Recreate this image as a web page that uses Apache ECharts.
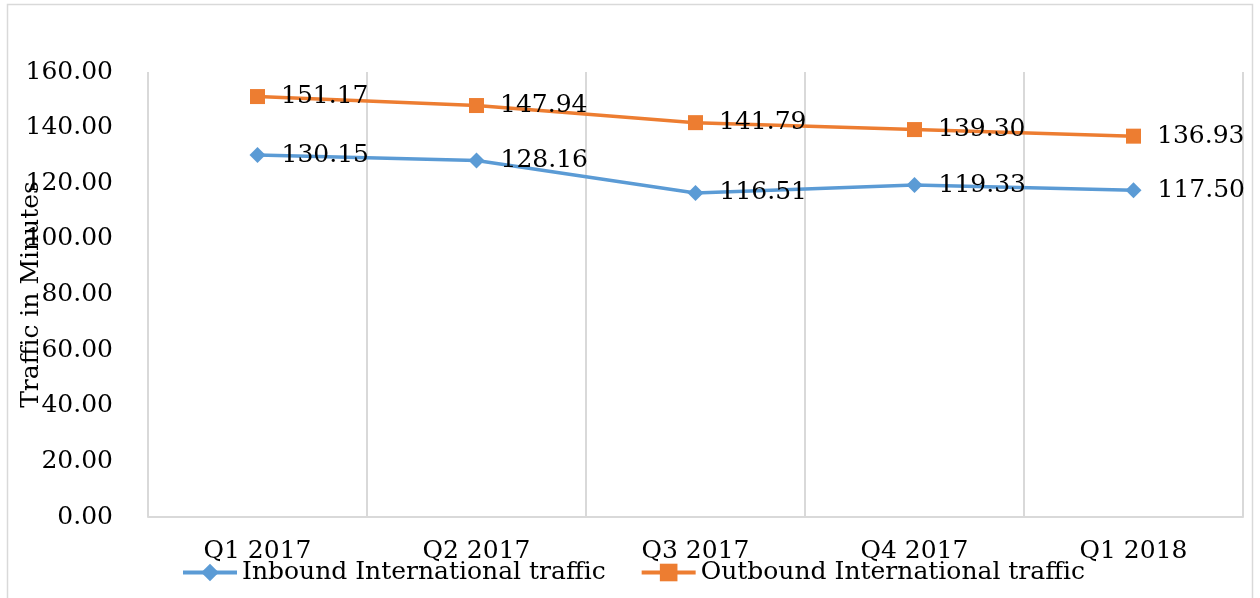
<!DOCTYPE html>
<html lang="en">
  <head>
    <meta charset="UTF-8" />
    <title>International traffic</title>
    <script src="https://cdn.jsdelivr.net/npm/echarts@6/dist/echarts.min.js"></script>
    <style>
      html, body { margin: 0; padding: 0; background: #fff; }
    </style>
  </head>
  <body>
    <div id="main" style="width: 1260px; height: 598px"></div>
    <script>
      var quarters = ["Q1 2017", "Q2 2017", "Q3 2017", "Q4 2017", "Q1 2018"];
      var inbound = [130.15, 128.16, 116.51, 119.33, 117.5];
      var outbound = [151.17, 147.94, 141.79, 139.3, 136.93];
      var yTicks = { min: 0, max: 160, interval: 20 };

      var font = "DejaVu Serif";
      var fs = 25;
      var myChart = echarts.init(document.getElementById("main"));

      // 数据标签格式 两位小数
      function fmt2(p) {
        return (typeof p === "number" ? p : p.value).toFixed(2);
      }

      var option = {
        animation: false,
        textStyle: { fontFamily: font, color: "#000" },
        graphic: [
          {
            type: "rect",
            shape: { x: 7.5, y: 4.5, width: 1245, height: 600 },
            style: { fill: "none", stroke: "#d9d9d9", lineWidth: 1.5 },
          },
        ],
        grid: { left: 148, right: 17, top: 72, bottom: 81, outerBoundsMode: "none" },
        legend: {
          left: 176,
          top: 555,
          itemWidth: 54,
          itemHeight: 22,
          itemGap: 34,
          lineStyle: { width: 4 },
          textStyle: { fontFamily: font, fontSize: fs, color: "#000" },
          data: ["Inbound International traffic", "Outbound International traffic"],
        },
        xAxis: {
          type: "category",
          data: quarters,
          boundaryGap: true,
          axisLine: { lineStyle: { color: "#d9d9d9", width: 2 } },
          axisTick: { show: false },
          splitLine: { show: true, lineStyle: { color: "#d9d9d9", width: 2 } },
          axisLabel: { margin: 22, fontSize: fs, color: "#000", fontFamily: font },
        },
        yAxis: {
          type: "value",
          min: yTicks.min,
          max: yTicks.max,
          interval: yTicks.interval,
          name: "Traffic in Minutes",
          nameLocation: "middle",
          nameGap: 104,
          nameMoveOverlap: false,
          nameTextStyle: { fontSize: fs, color: "#000", fontFamily: font },
          axisLine: { show: false },
          axisTick: { show: false },
          splitLine: { show: false },
          axisLabel: {
            margin: 35,
            fontSize: fs,
            color: "#000",
            fontFamily: font,
            formatter: fmt2,
          },
        },
        series: [
          {
            name: "Inbound International traffic",
            type: "line",
            data: inbound,
            symbol: "diamond",
            symbolSize: 16,
            itemStyle: { color: "#5b9bd5" },
            lineStyle: { color: "#5b9bd5", width: 3.5 },
            label: {
              show: true,
              position: "right",
              distance: 16,
              fontSize: fs,
              color: "#000",
              fontFamily: font,
              formatter: fmt2,
            },
          },
          {
            name: "Outbound International traffic",
            type: "line",
            data: outbound,
            symbol: "rect",
            symbolSize: 15,
            itemStyle: { color: "#ed7d31" },
            lineStyle: { color: "#ed7d31", width: 3.5 },
            label: {
              show: true,
              position: "right",
              distance: 16,
              fontSize: fs,
              color: "#000",
              fontFamily: font,
              formatter: fmt2,
            },
          },
        ],
      };
      myChart.setOption(option);
    </script>
  </body>
</html>
